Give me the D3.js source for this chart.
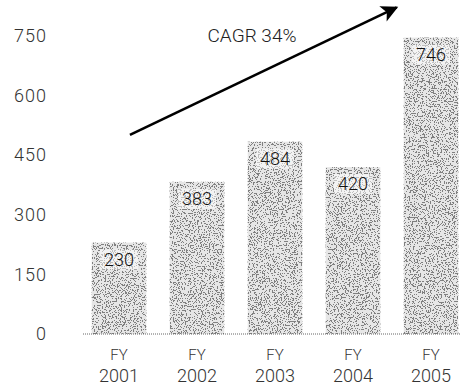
<!DOCTYPE html>
<html>
<head>
<meta charset="utf-8">
<script src="https://cdn.jsdelivr.net/npm/d3@7"></script>
<style>
  html, body { margin: 0; padding: 0; background: #fff; }
  svg { display: block; font-family: Roboto, "Liberation Sans", Arial, sans-serif; font-weight: 300; }
</style>
</head>
<body>
<svg id="chart" width="461" height="387"></svg>
<script>
// Revenue by fiscal year
const categories = ["FY 2001", "FY 2002", "FY 2003", "FY 2004", "FY 2005"];
const values = [230, 383, 484, 420, 746];
const yTicks = [0, 150, 300, 450, 600, 750];
const cagrLabel = "CAGR 34%";

const svg = d3.select("#chart");

const x = d3.scaleBand()
  .domain(categories)
  .range([80, 470])
  .paddingInner(0.3)
  .paddingOuter(0.15);

const y = d3.scaleLinear()
  .domain([0, 750])
  .range([334, 36]);

// Speckled grey fill for the bars
const defs = svg.append("defs");
const f = defs.append("filter").attr("id", "grain")
  .attr("x", 0).attr("y", 0).attr("width", 1).attr("height", 1)
  .attr("color-interpolation-filters", "sRGB");
f.append("feTurbulence").attr("type", "fractalNoise")
  .attr("baseFrequency", 0.75).attr("numOctaves", 3).attr("seed", 7).attr("result", "noise");
f.append("feColorMatrix").attr("in", "noise").attr("type", "matrix")
  .attr("values", "0 0 0 0 0.5  0 0 0 0 0.5  0 0 0 0 0.5  1.6 0 0 0 -0.42")
  .attr("result", "dots");
const ct = f.append("feComponentTransfer").attr("in", "dots").attr("result", "bin");
ct.append("feFuncA").attr("type", "discrete").attr("tableValues", "0 1");
f.append("feComposite").attr("in", "bin").attr("in2", "SourceGraphic")
  .attr("operator", "in").attr("result", "clipped");
const m = f.append("feMerge");
m.append("feMergeNode").attr("in", "SourceGraphic");
m.append("feMergeNode").attr("in", "clipped");

// Y axis labels (no axis line)
const yAxis = d3.axisLeft(y).tickValues(yTicks).tickSize(0).tickPadding(0);
const gy = svg.append("g").attr("transform", "translate(47,0)").call(yAxis);
gy.select(".domain").remove();
gy.selectAll("text")
  .attr("font-size", 18)
  .attr("font-family", "Roboto, 'Liberation Sans', Arial, sans-serif")
  .attr("font-weight", 300)
  .attr("fill", "#333")
  .attr("letter-spacing", "1px");

// Bars
svg.append("g").selectAll("rect")
  .data(values)
  .join("rect")
  .attr("x", (d, i) => x(categories[i]))
  .attr("y", d => y(d))
  .attr("width", x.bandwidth())
  .attr("height", d => y(0) - y(d))
  .attr("fill", "#e6e6e6")
  .attr("filter", "url(#grain)");

// Dotted baseline
svg.append("line")
  .attr("x1", 83).attr("x2", 461)
  .attr("y1", y(0)).attr("y2", y(0))
  .attr("stroke", "#666").attr("stroke-width", 1)
  .attr("stroke-dasharray", "1,1");

// Value labels inside the bar tops
const vl = svg.append("g").selectAll("g")
  .data(values)
  .join("g")
  .attr("transform", (d, i) => `translate(${x(categories[i]) + x.bandwidth() / 2},${y(d) + 17})`);
vl.append("rect")
  .attr("x", -19).attr("y", -10).attr("width", 38).attr("height", 20)
  .attr("fill", "#fff").attr("opacity", 0.5);
vl.append("text")
  .attr("text-anchor", "middle")
  .attr("dy", "0.35em")
  .attr("font-size", 18)
  .attr("fill", "#111")
  .text(d => d);

// Category labels on two lines
const xl = svg.append("g").selectAll("text")
  .data(categories)
  .join("text")
  .attr("x", d => x(d) + x.bandwidth() / 2)
  .attr("text-anchor", "middle")
  .attr("font-size", 18)
  .attr("fill", "#333");
xl.append("tspan").attr("x", d => x(d) + x.bandwidth() / 2).attr("y", 360)
  .attr("font-size", 15).text(d => d.split(" ")[0]);
xl.append("tspan").attr("x", d => x(d) + x.bandwidth() / 2).attr("y", 382)
  .text(d => d.split(" ")[1]);

// Growth arrow
defs.append("marker").attr("id", "head")
  .attr("viewBox", "0 0 10 10").attr("refX", 9).attr("refY", 5)
  .attr("markerWidth", 10).attr("markerHeight", 6.5)
  .attr("markerUnits", "strokeWidth")
  .attr("orient", "auto")
  .append("path").attr("d", "M0,0 L10,5 L0,10 L2.5,5 Z").attr("fill", "#000");

const arrowStart = [x(categories[0]) + x.bandwidth() * 0.7, y(501)];
const arrowEnd = [x(categories[4]) - 7, y(822)];
svg.append("line")
  .attr("x1", arrowStart[0]).attr("y1", arrowStart[1])
  .attr("x2", arrowEnd[0]).attr("y2", arrowEnd[1])
  .attr("stroke", "#000").attr("stroke-width", 2.6)
  .attr("marker-end", "url(#head)");

svg.append("text")
  .attr("x", 252).attr("y", 42)
  .attr("text-anchor", "middle")
  .attr("font-size", 19)
  .attr("fill", "#222")
  .text(cagrLabel);
</script>
</body>
</html>
